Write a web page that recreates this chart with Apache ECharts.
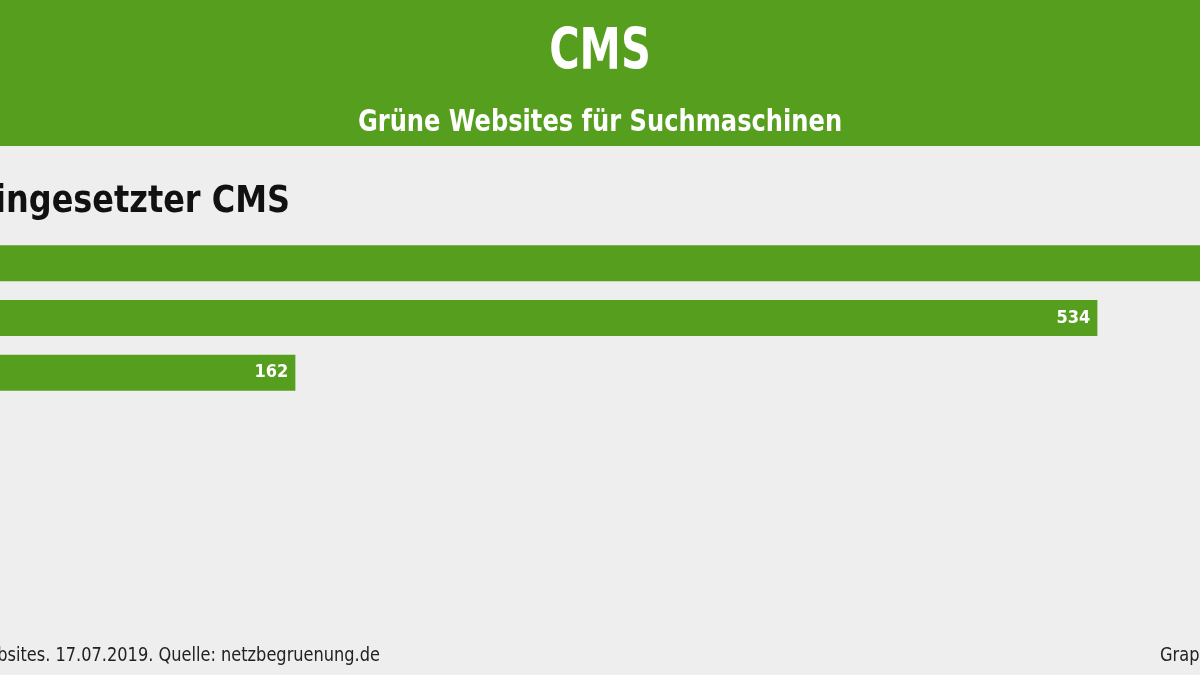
<!DOCTYPE html>
<html>
<head>
<meta charset="utf-8">
<script src="https://cdn.jsdelivr.net/npm/echarts@6/dist/echarts.min.js"></script>
<style>
html,body{margin:0;padding:0;background:#eeeeee;}
#chart{width:1200px;height:675px;}
</style>
</head>
<body>
<div id="chart"></div>
<script>
// Data (left part of the chart is cut off in the reference; category names are not visible)
const categories = ["WordPress", "Typo3", "Joomla", "Drupal", "Contao", "Jimdo", "Sonstige"];
const values = [640, 534, 162, 25, 12, 8, 5];
const titleText = "CMS";
const subtitleText = "Grüne Websites für Suchmaschinen";
const sectionText = "Eingesetzter CMS";
const footerLeft = "Grüne Websites. 17.07.2019. Quelle: netzbegruenung.de";
const footerRight = "Graphik: netzbegruenung.de";

const GREEN = "#569e1e";
const FONT = "'DejaVu Sans Condensed', 'DejaVu Sans', sans-serif";
const AXIS_MIN = 25;      // visible window of the (cropped) value axis
const AXIS_MAX = 581.6;

const chart = echarts.init(document.getElementById('chart'));
chart.setOption({
  backgroundColor: '#eeeeee',
  animation: false,
  graphic: [
    { type: 'rect', left: 0, top: 0, shape: { width: 1200, height: 146 }, style: { fill: GREEN }, z: 0 },
    { type: 'text', x: 600, y: 54, scaleX: 0.81, style: { text: titleText, fill: '#ffffff', font: "bold 57px " + FONT, textAlign: 'center', textVerticalAlign: 'middle' }, z: 1 },
    { type: 'text', x: 600, y: 123, scaleX: 0.866, style: { text: subtitleText, fill: '#ffffff', font: "bold 31px " + FONT, textAlign: 'center', textVerticalAlign: 'middle' }, z: 1 },
    { type: 'text', x: 290, y: 202, scaleX: 0.96, style: { text: sectionText, fill: '#111111', font: "bold 37px " + FONT, textAlign: 'right', textVerticalAlign: 'middle' }, z: 1 },
    { type: 'text', x: 380, y: 656, scaleX: 0.90, style: { text: footerLeft, fill: '#222222', font: "20px " + FONT, textAlign: 'right', textVerticalAlign: 'middle' }, z: 1 },
    { type: 'text', x: 1160, y: 656, scaleX: 0.90, style: { text: footerRight, fill: '#222222', font: "20px " + FONT, textAlign: 'left', textVerticalAlign: 'middle' }, z: 1 }
  ],
  grid: { left: 0, right: 0, top: 236, height: 383, containLabel: false },
  xAxis: { type: 'value', min: AXIS_MIN, max: AXIS_MAX, show: false, splitLine: { show: false } },
  yAxis: {
    type: 'category', data: categories, inverse: true,
    axisLine: { show: false }, axisTick: { show: false }, axisLabel: { show: false }
  },
  series: [{
    type: 'bar',
    data: values.map(v => ({ value: v, label: { show: v > AXIS_MIN + 30 && v < AXIS_MAX } })),
    barWidth: 36,
    clip: true,
    itemStyle: { color: GREEN },
    label: { show: true, position: 'insideRight', color: '#ffffff', fontWeight: 'bold', fontSize: 18, fontFamily: FONT, distance: 7 }
  }]
});
</script>
</body>
</html>
